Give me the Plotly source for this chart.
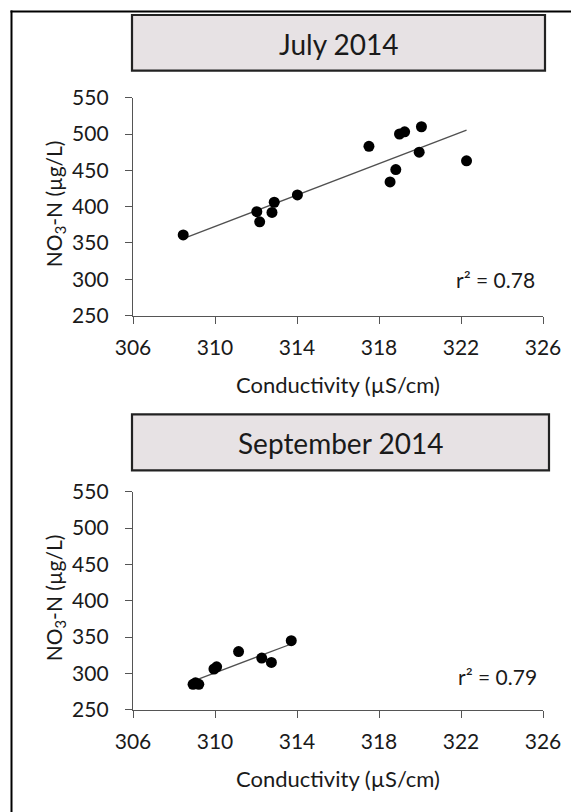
import numpy as np
import plotly.graph_objects as go

W, H = 571, 812

# ---- data ----
jul_cond = [308.45, 312.04, 312.18, 312.78, 312.89, 314.02, 317.51, 318.54, 318.82, 319.0, 319.25, 320.07, 319.96, 322.27]
jul_no3 = [361, 393, 379, 392, 406, 416, 483, 434, 451, 500, 503, 510, 475, 463]
sep_cond = [308.93, 309.05, 309.21, 309.95, 310.08, 311.15, 312.28, 312.75, 313.72]
sep_no3 = [285, 287, 285, 306, 309, 330, 321, 315, 345]

x_ticks = [306, 310, 314, 318, 322, 326]
y_ticks = [250, 300, 350, 400, 450, 500, 550]
panel_titles = ["July 2014", "September 2014"]
r2_labels = ["r\u00b2 = 0.78", "r\u00b2 = 0.79"]
x_title = "Conductivity (\u00b5S/cm)"
y_title = "NO<sub>3</sub>-N (\u00b5g/L)"

FONT = "Lato"
AX = "#555555"
TXT = "#1a1a1a"

def px(x):
    return x / W

def py(y):
    return 1 - y / H

fig = go.Figure()

panels = [
    dict(cond=jul_cond, no3=jul_no3, top=97.7, bottom=315.5, box=(132, 15, 545, 70.7), r2y=279.5, r2x=495.5),
    dict(cond=sep_cond, no3=sep_no3, top=491.7, bottom=709.7, box=(132, 414.3, 549, 470.3), r2y=676.8, r2x=497),
]

x_left, x_right = 133, 543
annotations = []
shapes = []
for i, p in enumerate(panels):
    k = "" if i == 0 else str(i + 1)
    xa, ya = "x" + k, "y" + k
    xs = np.array(p["cond"])
    ys = np.array(p["no3"])
    b, a = np.polyfit(xs, ys, 1)
    lx = np.array([xs.min(), xs.max()])
    fig.add_trace(go.Scatter(x=lx, y=a + b * lx, mode="lines",
                             line=dict(color="#505050", width=1.3),
                             xaxis=xa, yaxis=ya, showlegend=False, hoverinfo="skip"))
    fig.add_trace(go.Scatter(x=xs, y=ys, mode="markers",
                             marker=dict(color="black", size=11, line=dict(width=0)),
                             xaxis=xa, yaxis=ya, showlegend=False))
    axcommon = dict(showgrid=False, zeroline=False, showline=True, linecolor=AX, linewidth=1.3,
                    ticks="outside", ticklen=7, tickcolor=AX, tickwidth=1.3, automargin=False,
                    tickfont=dict(family=FONT, size=21, color=TXT))
    fig.update_layout(**{
        "xaxis" + k: dict(axcommon, domain=[px(x_left), px(x_right)], range=[306, 326],
                          tickvals=x_ticks, ticktext=[str(t) for t in x_ticks],
                          anchor=ya, ticklabelstandoff=6),
        "yaxis" + k: dict(axcommon, domain=[py(p["bottom"]), py(p["top"])], range=[250, 550],
                          tickvals=y_ticks, ticktext=[str(t) for t in y_ticks],
                          anchor=xa, ticklabelstandoff=12),
    })
    x0, y0, x1, y1 = p["box"]
    shapes.append(dict(type="rect", xref="paper", yref="paper",
                       x0=px(x0), x1=px(x1), y0=py(y1), y1=py(y0),
                       fillcolor="#E7E2E4", line=dict(color="#222222", width=2.2), layer="below"))
    annotations.append(dict(xref="paper", yref="paper", x=px((x0 + x1) / 2), y=py((y0 + y1) / 2 + 1),
                            text=panel_titles[i], showarrow=False, xanchor="center", yanchor="middle",
                            font=dict(family=FONT, size=28, color=TXT)))
    annotations.append(dict(xref="paper", yref="paper", x=px(p["r2x"]), y=py(p["r2y"]),
                            text=r2_labels[i], showarrow=False, xanchor="center", yanchor="middle",
                            font=dict(family=FONT, size=21, color=TXT)))
    annotations.append(dict(xref="paper", yref="paper", x=px(338), y=py(p["bottom"] + 68.5),
                            text=x_title, showarrow=False, xanchor="center", yanchor="middle",
                            font=dict(family=FONT, size=22, color=TXT)))
    annotations.append(dict(xref="paper", yref="paper", x=px(54.6), y=py((p["top"] + p["bottom"]) / 2 - 3),
                            text=y_title, showarrow=False, xanchor="center", yanchor="middle",
                            textangle=-90, font=dict(family=FONT, size=21, color=TXT)))

# outer frame (open at right and bottom)
shapes.append(dict(type="line", xref="paper", yref="paper", x0=px(11.5), x1=px(11.5), y0=0, y1=py(10.5),
                   line=dict(color="black", width=2)))
shapes.append(dict(type="line", xref="paper", yref="paper", x0=px(10.5), x1=1, y0=py(11.5), y1=py(11.5),
                   line=dict(color="black", width=2)))

fig.update_layout(width=W, height=H, margin=dict(l=0, r=0, t=0, b=0, pad=0),
                  paper_bgcolor="white", plot_bgcolor="white",
                  shapes=shapes, annotations=annotations,
                  font=dict(family=FONT))

fig.write_html("out.html", config={"displayModeBar": False},
               post_script="document.body.style.margin='0';document.body.style.overflow='hidden';")
